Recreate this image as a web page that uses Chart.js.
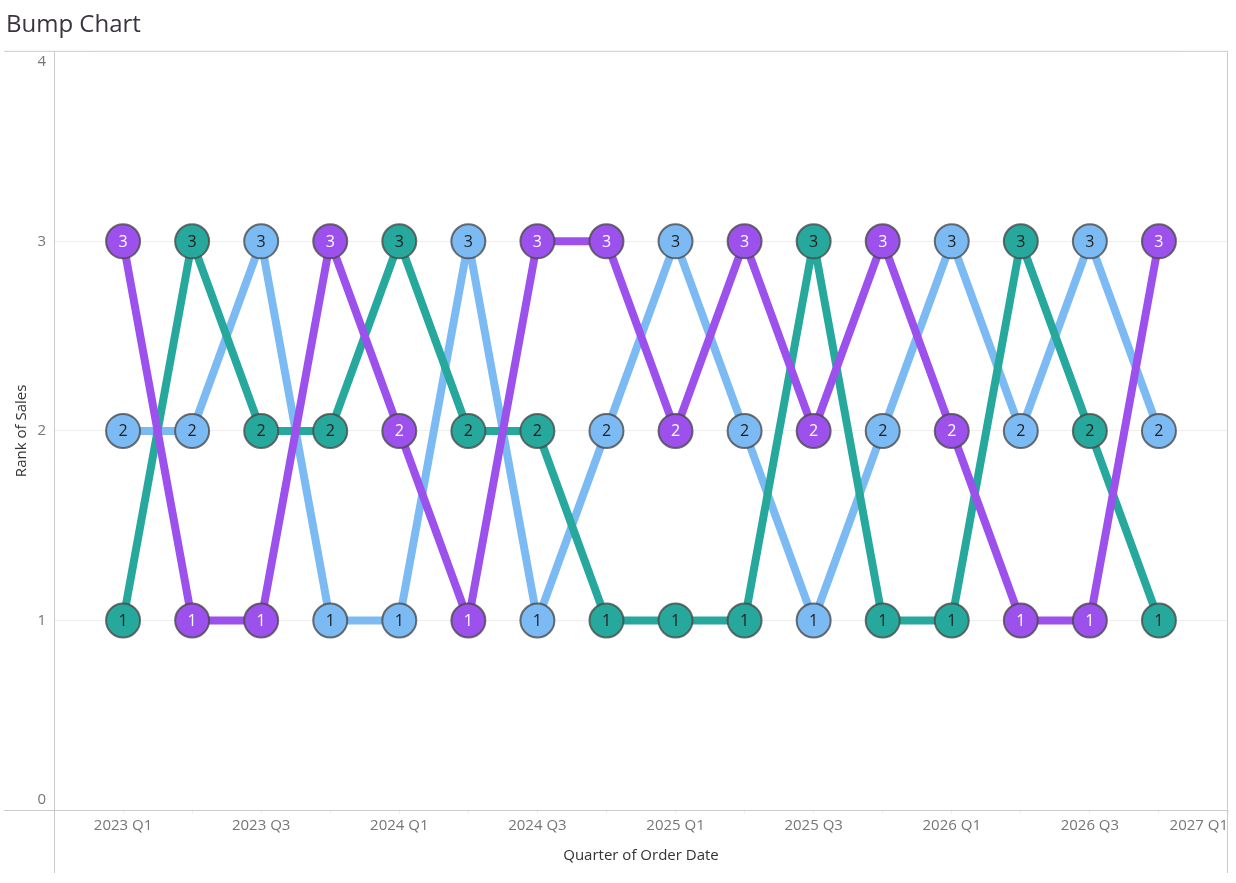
<!DOCTYPE html>
<html>
<head>
<meta charset="utf-8">
<script src="https://cdn.jsdelivr.net/npm/chart.js@4.4.1/dist/chart.umd.min.js"></script>
<style>
  html, body { margin: 0; padding: 0; background: #ffffff; overflow: hidden; }
  #c { display: block; }
</style>
</head>
<body>
<canvas id="c" width="1236" height="883" style="width:1236px;height:883px"></canvas>
<script>
// ---- Data ----
const quarters = ['2023 Q1','2023 Q2','2023 Q3','2023 Q4','2024 Q1','2024 Q2','2024 Q3','2024 Q4',
                  '2025 Q1','2025 Q2','2025 Q3','2025 Q4','2026 Q1','2026 Q2','2026 Q3','2026 Q4'];
const xTickLabels = ['2023 Q1','2023 Q3','2024 Q1','2024 Q3','2025 Q1','2025 Q3','2026 Q1','2026 Q3','2027 Q1'];
const yTickValues = [0, 1, 2, 3, 4];
const seriesNames = ['Purple', 'Teal', 'Blue'];
const purpleRanks = [3,1,1,3,2,1,3,3,2,3,2,3,2,1,1,3];
const tealRanks   = [1,3,2,2,3,2,2,1,1,1,3,1,1,3,2,1];
const blueRanks   = [2,2,3,1,1,3,1,2,3,2,1,2,3,2,3,2];

const seriesRanks = [purpleRanks, tealRanks, blueRanks];
const seriesColors = ['#9c51ec', '#27a89c', '#7bbaf2'];
const labelColors = ['#ffffff', '#1f1f1f', '#1f1f1f'];
const lineOrder = [1, 2, 3];

Chart.defaults.font.family = "'Open Sans', 'Noto Sans', sans-serif";

const toPoints = ranks => ranks.map((r, i) => ({ x: i, y: r }));

const datasets = [];
seriesRanks.forEach((ranks, s) => {
  datasets.push({
    label: seriesNames[s] + ' line',
    data: toPoints(ranks),
    borderColor: seriesColors[s],
    backgroundColor: seriesColors[s],
    borderWidth: 8,
    pointRadius: 0,
    tension: 0,
    borderJoinStyle: 'round',
    clip: false,
    order: lineOrder[s]
  });
});
seriesRanks.forEach((ranks, s) => {
  datasets.push({
    label: seriesNames[s],
    data: toPoints(ranks),
    showLine: false,
    pointRadius: 17,
    pointBorderWidth: 2,
    pointBackgroundColor: seriesColors[s],
    pointBorderColor: 'rgba(72,72,72,0.78)',
    clip: false,
    order: 0,
    _isPoints: true,
    _labelColor: labelColors[s],
    _ranks: ranks
  });
});

const pointLabels = {
  id: 'pointLabels',
  afterDatasetsDraw(chart) {
    const ctx = chart.ctx;
    ctx.save();
    ctx.font = "16px 'Open Sans', 'Noto Sans', sans-serif";
    ctx.textAlign = 'center';
    ctx.textBaseline = 'middle';
    chart.data.datasets.forEach((ds, di) => {
      if (!ds._isPoints) return;
      const meta = chart.getDatasetMeta(di);
      ctx.fillStyle = ds._labelColor;
      meta.data.forEach((pt, i) => {
        ctx.fillText(String(ds._ranks[i]), pt.x, pt.y + 1);
      });
    });
    ctx.restore();
  }
};

const paneBorders = {
  id: 'paneBorders',
  afterDraw(chart) {
    const { ctx, chartArea: a } = chart;
    ctx.save();
    ctx.strokeStyle = '#cacaca';
    ctx.lineWidth = 1;
    ctx.beginPath();
    ctx.moveTo(4, a.top - 0.5); ctx.lineTo(a.right, a.top - 0.5);
    ctx.moveTo(4, a.bottom + 0.5); ctx.lineTo(a.right, a.bottom + 0.5);
    ctx.moveTo(a.left + 0.5, a.top - 0.5); ctx.lineTo(a.left + 0.5, 873);
    ctx.moveTo(a.right - 0.5, a.top - 0.5); ctx.lineTo(a.right - 0.5, 873);
    ctx.stroke();
    ctx.restore();
  }
};

new Chart(document.getElementById('c'), {
  type: 'line',
  data: { datasets },
  plugins: [pointLabels, paneBorders],
  options: {
    responsive: false,
    maintainAspectRatio: false,
    devicePixelRatio: 1,
    animation: false,
    events: [],
    layout: { autoPadding: false, padding: { top: 3, left: 6, right: 8, bottom: 0 } },
    plugins: {
      legend: { display: false },
      tooltip: { enabled: false },
      title: {
        display: true,
        text: 'Bump Chart',
        align: 'start',
        color: '#3a3340',
        font: { size: 24, weight: 'normal' },
        padding: { top: 8, bottom: 12 }
      }
    },
    scales: {
      x: {
        type: 'linear',
        min: -1,
        max: quarters.length,
        afterBuildTicks: scale => {
          const t = [];
          for (let v = -1; v <= quarters.length; v++) t.push({ value: v });
          scale.ticks = t;
        },
        afterFit: scale => { scale.height = 73; scale.paddingRight = 0; scale.paddingLeft = 0; },
        ticks: {
          autoSkip: false,
          maxRotation: 0,
          minRotation: 0,
          align: 'inner',
          padding: 3,
          color: '#767676',
          font: { size: 15 },
          callback: value => (value >= 0 && value % 2 === 0) ? xTickLabels[value / 2] : ''
        },
        grid: {
          drawOnChartArea: false,
          drawTicks: true,
          tickLength: 4,
          color: '#efefef'
        },
        border: { display: false },
        title: {
          display: true,
          text: 'Quarter of Order Date',
          color: '#333333',
          font: { size: 15 },
          padding: { top: 4, bottom: 18 }
        }
      },
      y: {
        type: 'linear',
        min: yTickValues[0],
        max: yTickValues[yTickValues.length - 1],
        afterBuildTicks: scale => {
          const lo = yTickValues[0], hi = yTickValues[yTickValues.length - 1];
          const inset = 0.053;
          scale.ticks = yTickValues.map(v => ({
            value: v === lo ? v + inset : (v === hi ? v - inset : v)
          }));
        },
        afterFit: scale => { scale.width = 48; },
        ticks: {
          autoSkip: false,
          padding: 8,
          color: '#767676',
          font: { size: 15 },
          callback: value => String(Math.round(value))
        },
        grid: {
          drawTicks: false,
          lineWidth: 1,
          color: c => (c.tick && Number.isInteger(c.tick.value) && c.tick.value > 0 && c.tick.value < 4) ? '#eeeeee' : 'rgba(0,0,0,0)'
        },
        border: { display: false },
        title: {
          display: true,
          text: 'Rank of Sales',
          color: '#333333',
          font: { size: 15 },
          padding: { top: 7, bottom: 0 }
        }
      }
    }
  }
});
</script>
</body>
</html>
